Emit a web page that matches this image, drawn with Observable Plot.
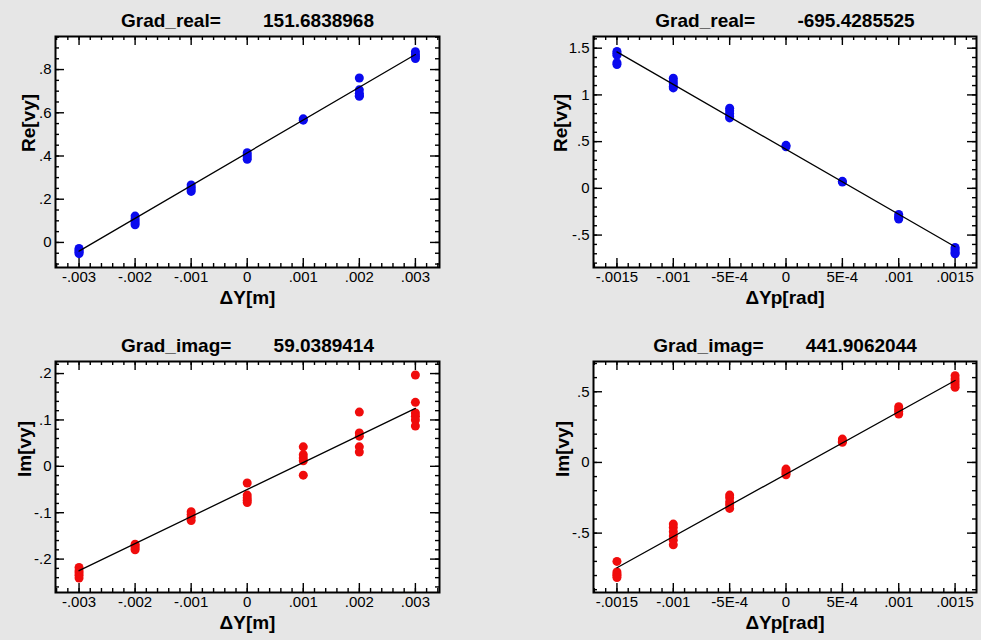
<!DOCTYPE html>
<html><head><meta charset="utf-8">
<script src="https://cdn.jsdelivr.net/npm/d3@7"></script>
<script src="https://cdn.jsdelivr.net/npm/@observablehq/plot@0.6"></script>
<style>
body{margin:0;background:#e6e6e6;}
#wrap{position:relative;width:981px;height:640px;background:#e6e6e6;overflow:hidden;}
.panel{position:absolute;}
</style></head><body><div id="wrap"></div>
<script>
// x positions and tick labels
const dY = [-0.003, -0.002, -0.001, 0, 0.001, 0.002, 0.003];
const dYLabels = ["-.003", "-.002", "-.001", "0", ".001", ".002", ".003"];
const dYp = [-0.0015, -0.001, -0.0005, 0, 0.0005, 0.001, 0.0015];
const dYpLabels = ["-.0015", "-.001", "-5E-4", "0", "5E-4", ".001", ".0015"];

// y tick values & labels
const reTicksA = [0, 0.2, 0.4, 0.6, 0.8];
const reTicksALabels = ["0", ".2", ".4", ".6", ".8"];
const reTicksB = [-0.5, 0, 0.5, 1, 1.5];
const reTicksBLabels = ["-.5", "0", ".5", "1", "1.5"];
const imTicksA = [-0.2, -0.1, 0, 0.1, 0.2];
const imTicksALabels = ["-.2", "-.1", "0", ".1", ".2"];
const imTicksB = [-0.5, 0, 0.5];
const imTicksBLabels = ["-.5", "0", ".5"];

// titles
const titleNames = ["Grad_real=", "Grad_real=", "Grad_imag=", "Grad_imag="];
const gradValues = ["151.6838968", "-695.4285525", "59.0389414", "441.9062044"];
const xLabels = ["\u0394Y[m]", "\u0394Yp[rad]", "\u0394Y[m]", "\u0394Yp[rad]"];
const yLabels = ["Re[vy]", "Re[vy]", "Im[vy]", "Im[vy]"];

// measured values per x position
const reVy_dY = [
  [-0.028, -0.035, -0.04, -0.046, -0.052],
  [0.122, 0.11, 0.1, 0.09, 0.082],
  [0.266, 0.255, 0.245, 0.236],
  [0.415, 0.405, 0.395, 0.385],
  [0.572, 0.566],
  [0.761, 0.706, 0.69, 0.68, 0.676],
  [0.883, 0.87, 0.86, 0.851]
];
const reVy_dYp = [
  [1.464, 1.445, 1.425, 1.345, 1.325],
  [1.179, 1.15, 1.12, 1.09, 1.075],
  [0.857, 0.83, 0.80, 0.77, 0.754],
  [0.46, 0.445],
  [0.075, 0.068],
  [-0.279, -0.30, -0.315, -0.329],
  [-0.632, -0.65, -0.67, -0.69, -0.70]
];
const imVy_dY = [
  [-0.218, -0.225, -0.23, -0.235, -0.241],
  [-0.168, -0.172, -0.176, -0.18],
  [-0.098, -0.104, -0.11, -0.117],
  [-0.036, -0.062, -0.068, -0.073, -0.078],
  [0.042, 0.025, 0.018, 0.012, -0.019],
  [0.117, 0.072, 0.065, 0.042, 0.031],
  [0.197, 0.138, 0.115, 0.108, 0.10, 0.087]
];
const imVy_dYp = [
  [-0.70, -0.775, -0.79, -0.80, -0.814],
  [-0.436, -0.46, -0.49, -0.52, -0.55, -0.583],
  [-0.231, -0.25, -0.28, -0.30, -0.325],
  [-0.047, -0.06, -0.075, -0.087],
  [0.165, 0.15, 0.142],
  [0.394, 0.375, 0.36, 0.342],
  [0.613, 0.59, 0.57, 0.55, 0.531]
];

// fitted line end points
const fitA = [-0.04, 0.8695];
const fitB = [1.46, -0.625];
const fitC = [-0.225, 0.125];
const fitD = [-0.745, 0.58];

const FONT = "'Liberation Sans', Arial, Helvetica, sans-serif";

const panels = [
  {left: 0, top: 0, width: 490, ml: 55, mr: 51, mt: 36, mb: 53,
   xs: dY, xl: dYLabels, vals: reVy_dY, fit: fitA, xdom: [-0.00342, 0.00343], ydom: [-0.116, 0.953],
   yt: reTicksA, ytl: reTicksALabels, xminor: 0.0002, yminor: 0.05, color: "#0a0aee", ylabDx: -27},
  {left: 490, top: 0, width: 491, ml: 103, mr: 5, mt: 36, mb: 53,
   xs: dYp, xl: dYpLabels, vals: reVy_dYp, fit: fitB, xdom: [-0.001708, 0.00169], ydom: [-0.847, 1.625],
   yt: reTicksB, ytl: reTicksBLabels, xminor: 0.0001, yminor: 0.1, color: "#0a0aee", ylabDx: -33},
  {left: 0, top: 320, width: 490, ml: 55, mr: 51, mt: 41, mb: 48,
   xs: dY, xl: dYLabels, vals: imVy_dY, fit: fitC, xdom: [-0.00342, 0.00343], ydom: [-0.272, 0.226],
   yt: imTicksA, ytl: imTicksALabels, xminor: 0.0002, yminor: 0.02, color: "#f00c0c", ylabDx: -31},
  {left: 490, top: 320, width: 491, ml: 103, mr: 5, mt: 41, mb: 48,
   xs: dYp, xl: dYpLabels, vals: imVy_dYp, fit: fitD, xdom: [-0.001708, 0.00169], ydom: [-0.92, 0.714],
   yt: imTicksB, ytl: imTicksBLabels, xminor: 0.0001, yminor: 0.1, color: "#f00c0c", ylabDx: -31}
];

const wrap = document.getElementById("wrap");
panels.forEach((p, k) => {
  const height = 320;
  const iw = p.width - p.ml - p.mr;
  const ih = height - p.mt - p.mb;
  const data = p.xs.flatMap((x, i) => p.vals[i].map(y => ({x, y})));
  const line = [{x: p.xs[0], y: p.fit[0]}, {x: p.xs[p.xs.length - 1], y: p.fit[1]}];
  const xMinor = d3.range(Math.ceil(p.xdom[0] / p.xminor), Math.floor(p.xdom[1] / p.xminor) + 1).map(i => +(i * p.xminor).toFixed(6));
  const yMinor = d3.range(Math.ceil(p.ydom[0] / p.yminor), Math.floor(p.ydom[1] / p.yminor) + 1).map(i => +(i * p.yminor).toFixed(6));
  const MAJ = 9, MIN = 4, SW = 1.4;
  const chart = Plot.plot({
    width: p.width, height,
    marginLeft: p.ml, marginRight: p.mr, marginTop: p.mt, marginBottom: p.mb,
    style: {background: "transparent", fontFamily: FONT, fontSize: "15px", color: "black", overflow: "visible"},
    x: {domain: p.xdom, axis: null},
    y: {domain: p.ydom, axis: null},
    marks: [
      Plot.frame({fill: "white", stroke: null}),
      // minor ticks
      Plot.ruleX(xMinor, {x: d => d, insetTop: ih - MIN, stroke: "black", strokeWidth: SW}),
      Plot.ruleX(xMinor, {x: d => d, insetBottom: ih - MIN, stroke: "black", strokeWidth: SW}),
      Plot.ruleY(yMinor, {y: d => d, insetRight: iw - MIN, stroke: "black", strokeWidth: SW}),
      Plot.ruleY(yMinor, {y: d => d, insetLeft: iw - MIN, stroke: "black", strokeWidth: SW}),
      // major ticks
      Plot.ruleX(p.xs, {x: d => d, insetTop: ih - MAJ, stroke: "black", strokeWidth: SW}),
      Plot.ruleX(p.xs, {x: d => d, insetBottom: ih - MAJ, stroke: "black", strokeWidth: SW}),
      Plot.ruleY(p.yt, {y: d => d, insetRight: iw - MAJ, stroke: "black", strokeWidth: SW}),
      Plot.ruleY(p.yt, {y: d => d, insetLeft: iw - MAJ, stroke: "black", strokeWidth: SW}),
      // data
      Plot.dot(data, {x: "x", y: "y", r: 4.5, fill: p.color, stroke: null}),
      Plot.line(line, {x: "x", y: "y", stroke: "black", strokeWidth: 1.3}),
      Plot.frame({stroke: "black", strokeWidth: 2}),
      // tick labels
      Plot.text(p.xs, {x: d => d, text: (d, i) => p.xl[i], frameAnchor: "bottom", dy: 4, lineAnchor: "top", fontSize: 15, fill: "black"}),
      Plot.text(p.yt, {y: d => d, text: (d, i) => p.ytl[i], frameAnchor: "left", dx: -4, textAnchor: "end", lineAnchor: "middle", fontSize: 15, fill: "black"}),
      // titles and axis labels
      Plot.text([titleNames[k] + "\u00a0".repeat(8) + gradValues[k]], {text: d => d, frameAnchor: "top", dy: -10, lineAnchor: "bottom", fontSize: 19, fontWeight: "bold"}),
      Plot.text([xLabels[k]], {text: d => d, frameAnchor: "bottom", dy: 36, lineAnchor: "bottom", fontSize: 19, fontWeight: "bold"}),
      Plot.text([yLabels[k]], {text: d => d, frameAnchor: "left", dx: p.ylabDx, rotate: -90, lineAnchor: "middle", fontSize: 19, fontWeight: "bold"})
    ]
  });
  const div = document.createElement("div");
  div.className = "panel";
  div.style.left = p.left + "px";
  div.style.top = p.top + "px";
  div.appendChild(chart);
  wrap.appendChild(div);
});
</script>
</body></html>
